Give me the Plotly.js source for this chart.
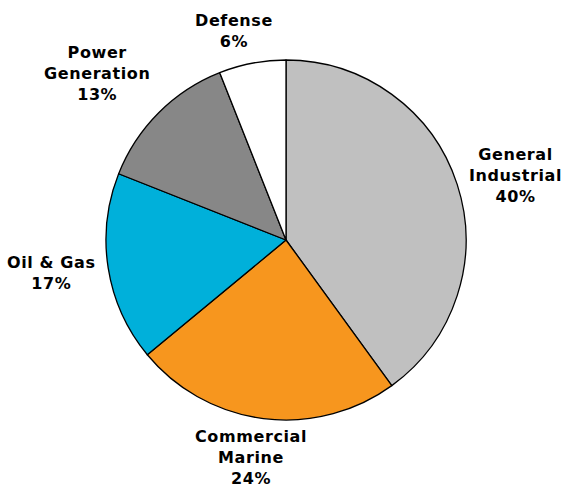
<!DOCTYPE html>
<html>
<head>
<meta charset="utf-8">
<script src="https://cdn.plot.ly/plotly-3.0.1.min.js"></script>
<style>
html,body{margin:0;padding:0;background:#fff;}
#chart{width:562px;height:489px;}
.annotation-text{letter-spacing:0.6px;}
</style>
</head>
<body>
<div id="chart"></div>
<script>
var labels = ['General<br>Industrial', 'Commercial<br>Marine', 'Oil & Gas', 'Power<br>Generation', 'Defense'];
var values = [40, 24, 17, 13, 6];
var percentText = ['40%', '24%', '17%', '13%', '6%'];
var colors = ['#C0C0C0', '#F7961E', '#00B0DA', '#878787', '#FFFFFF'];

var margin = {l: 106, r: 96, t: 60, b: 69};
var plotSize = 360;
var radius = plotSize / 2;
var gap = 10;

var trace = {
  type: 'pie',
  labels: labels,
  values: values,
  sort: false,
  direction: 'clockwise',
  rotation: 0,
  marker: {colors: colors, line: {color: '#000000', width: 1.3}},
  textinfo: 'none',
  hoverinfo: 'none',
  showlegend: false
};

// label annotations placed radially outside each slice's mid-angle
var total = values.reduce(function(a, b) { return a + b; }, 0);
var annotations = [];
var cum = 0;
for (var i = 0; i < values.length; i++) {
  var mid = (cum + values[i] / 2) / total * 2 * Math.PI;
  cum += values[i];
  var s = Math.sin(mid), c = Math.cos(mid);
  var r = (radius + gap) / plotSize;
  var xa = s > 0.3 ? 'left' : (s < -0.3 ? 'right' : 'center');
  var ya = c > 0.5 ? 'bottom' : (c < -0.5 ? 'top' : 'middle');
  var ys = 0;
  if (ya === 'middle') ys = c * 20;
  if (ya === 'top') ys = 4;
  annotations.push({
    xref: 'paper', yref: 'paper',
    x: 0.5 + s * r, y: 0.5 + c * r,
    xanchor: xa, yanchor: ya,
    xshift: xa === 'center' ? s * 90 : 0,
    yshift: ys,
    text: labels[i] + '<br>' + percentText[i],
    showarrow: false,
    align: 'center',
    font: {family: 'DejaVu Sans', size: 16, color: '#000000', weight: 'bold'}
  });
}

var layout = {
  width: 562, height: 489,
  margin: margin,
  paper_bgcolor: '#ffffff',
  plot_bgcolor: '#ffffff',
  showlegend: false,
  annotations: annotations
};

Plotly.newPlot('chart', [trace], layout, {displayModeBar: false, staticPlot: true});
</script>
</body>
</html>
